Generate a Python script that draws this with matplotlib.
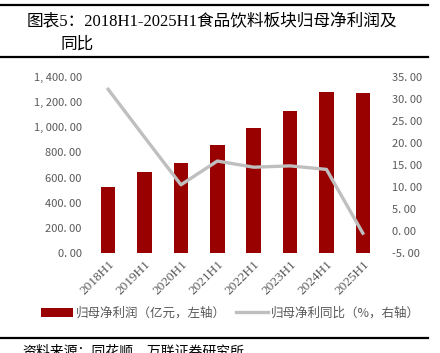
import numpy as np
import matplotlib.pyplot as plt
from matplotlib.ticker import FuncFormatter
from matplotlib.lines import Line2D

plt.rcParams['font.family'] = ['Noto Sans CJK SC', 'DejaVu Sans']

# data
periods = ['2018H1', '2019H1', '2020H1', '2021H1', '2022H1', '2023H1', '2024H1', '2025H1']
profit = [527, 647, 718, 859, 994, 1127, 1281, 1275]      # 亿元
yoy = [32.2, 21.3, 10.5, 15.9, 14.5, 14.8, 14.0, -0.5]    # %

bar_color = '#990000'
line_color = '#BFBFBF'
txt_gray = '#595959'

fig = plt.figure(figsize=(4.4, 3.53), dpi=100)
W, H = 440, 353

# frame lines and title
fig.add_artist(Line2D([0, 428 / W], [1 - 5 / H] * 2, color='black', lw=1.6))
fig.add_artist(Line2D([0, 428 / W], [1 - 57 / H] * 2, color='black', lw=1.6))
fig.add_artist(Line2D([0, 428 / W], [1 - 338 / H] * 2, color='black', lw=1.6))
title_fam = ['Liberation Serif', 'Noto Sans CJK SC']
fig.text(27 / W, 1 - 22 / H, '图表5：2018H1-2025H1食品饮料板块归母净利润及',
         fontsize=12, va='center', ha='left', family=title_fam)
fig.text(60 / W, 1 - 45 / H, '同比', fontsize=12, va='center', ha='left', family=title_fam)
fig.text(22 / W, 1 - 351 / H, '资料来源：同花顺，万联证券研究所', fontsize=10,
         va='center', ha='left', style='italic')

ax = fig.add_axes([90 / W, 1 - 253 / H, 291 / W, 176 / H])
x = np.arange(len(periods))
ax.bar(x, profit, width=0.4, color=bar_color, label='归母净利润（亿元，左轴）')
ax.set_ylim(0, 1400)
ax.set_yticks(np.arange(0, 1401, 200))
ax.set_xlim(-0.5, len(periods) - 0.5)

ax2 = ax.twinx()
ax2.plot(x, yoy, color=line_color, lw=2.4, label='归母净利同比（%，右轴）')
ax2.set_ylim(-5, 35)
ax2.set_yticks(np.arange(-5, 36, 5))


def fmt(v, pos):
    return '{:,.2f}'.format(v).replace(',', ', ').replace('.', '. ')


for a in (ax, ax2):
    a.yaxis.set_major_formatter(FuncFormatter(fmt))
    for s in a.spines.values():
        s.set_visible(False)
    a.tick_params(length=0, labelsize=8, labelcolor=txt_gray, pad=6)

ax.set_xticks(x)
ax.set_xticklabels(periods, rotation=45, ha='right', rotation_mode='anchor',
                   family=['Liberation Serif'], fontsize=9.5)
ax.tick_params(axis='x', pad=4)
ax2.tick_params(axis='y', pad=8)

h1, l1 = ax.get_legend_handles_labels()
h2, l2 = ax2.get_legend_handles_labels()
fig.legend(h1 + h2, l1 + l2, loc='center', bbox_to_anchor=(230 / W, 1 - 313 / H),
           ncol=2, frameon=False, fontsize=9, labelcolor=txt_gray,
           handlelength=2.6, handletextpad=0.2, columnspacing=0.8)

fig.savefig('out.png', dpi=100)
